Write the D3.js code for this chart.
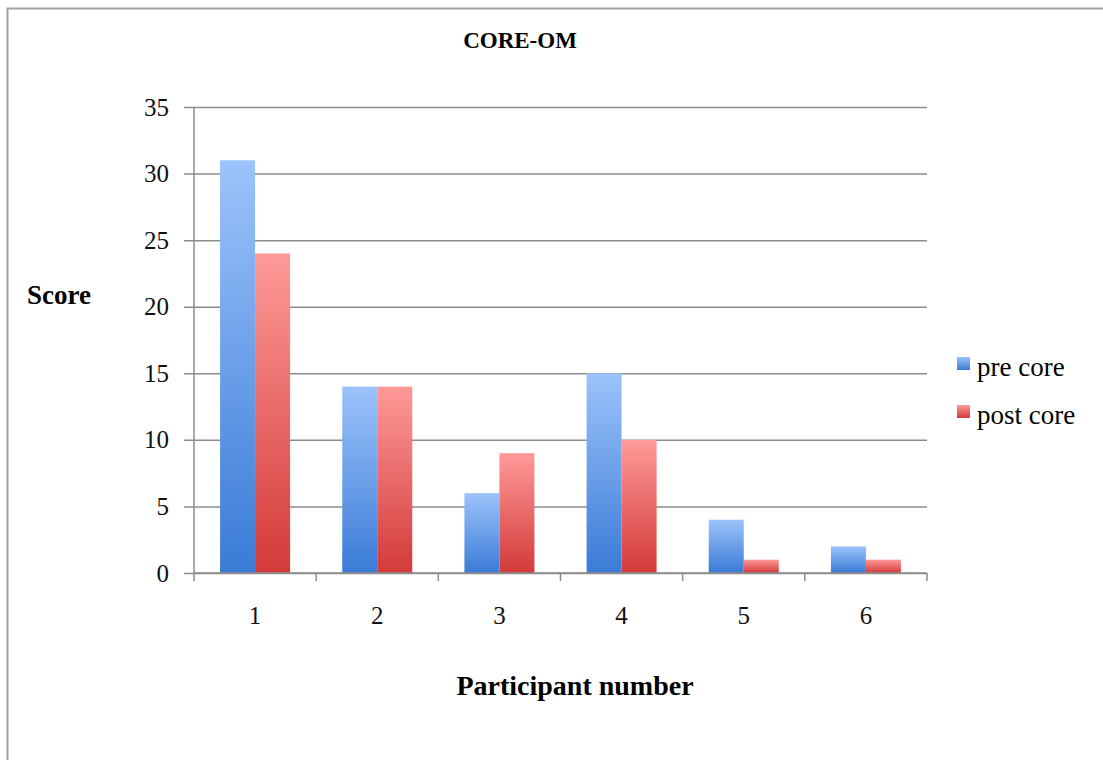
<!DOCTYPE html>
<html>
<body style="margin:0;background:#fff">
<script src="https://d3js.org/d3.v7.min.js"></script>
<style>
body { font-family: "Liberation Serif", serif; }
.axis text { font: 25px "Liberation Serif", serif; fill: #111; }
.axis line, .axis path { stroke: #8c8c8c; stroke-width: 1.5; }
</style>
<script>
// data
var participants = ["1", "2", "3", "4", "5", "6"];
var preCore = [31, 14, 6, 15, 4, 2];
var postCore = [24, 14, 9, 10, 1, 1];
var seriesNames = ["pre core", "post core"];
var yTicks = [0, 5, 10, 15, 20, 25, 30, 35];

var W = 1103, H = 760;
var plotL = 194, plotR = 927, plotT = 107, plotB = 573;

var svg = d3.select("body").append("svg")
    .attr("width", W).attr("height", H);

// outer frame (only top/left visible)
svg.append("rect")
    .attr("x", 7.5).attr("y", 8.5)
    .attr("width", W + 20).attr("height", H + 20)
    .attr("fill", "none").attr("stroke", "#a0a0a0").attr("stroke-width", 2);

var defs = svg.append("defs");
function grad(id, c1, c2) {
    var g = defs.append("linearGradient").attr("id", id)
        .attr("x1", 0).attr("y1", 0).attr("x2", 0).attr("y2", 1);
    g.append("stop").attr("offset", "0%").attr("stop-color", c1);
    g.append("stop").attr("offset", "100%").attr("stop-color", c2);
}
grad("gBlue", "#9cc3fb", "#3a7bd6");
grad("gRed", "#fe9a98", "#d33a39");
var fills = ["url(#gBlue)", "url(#gRed)"];

var x = d3.scaleBand().domain(participants).range([plotL, plotR]).paddingInner(0).paddingOuter(0);
var xs = d3.scaleBand().domain(seriesNames).range([0, x.bandwidth()]).paddingInner(0).paddingOuter(0.745);
var y = d3.scaleLinear().domain([0, 35]).range([plotB, plotT]);

// gridlines
svg.append("g").attr("class", "axis")
    .attr("transform", "translate(" + plotL + ",0)")
    .call(d3.axisLeft(y).tickValues(yTicks).tickSize(10).tickPadding(15))
    .call(function(g) { g.select(".domain").remove(); })
    .selectAll(".tick line").attr("x2", plotR - plotL).attr("x1", -10);

svg.append("line")
    .attr("x1", plotL).attr("x2", plotL).attr("y1", plotT).attr("y2", plotB)
    .attr("stroke", "#8c8c8c").attr("stroke-width", 1.5);

var series = [preCore, postCore];
series.forEach(function(vals, s) {
    svg.selectAll(".bar" + s)
        .data(participants)
      .enter().append("rect")
        .attr("x", function(d) { return x(d) + xs(seriesNames[s]); })
        .attr("width", xs.bandwidth())
        .attr("y", function(d, i) { return y(vals[i]); })
        .attr("height", function(d, i) { return plotB - y(vals[i]); })
        .attr("fill", fills[s]);
});

// x axis
var xAxis = svg.append("g").attr("class", "axis")
    .attr("transform", "translate(0," + plotB + ")")
    .call(d3.axisBottom(x).tickSize(0).tickPadding(33));
xAxis.select(".domain").attr("d", "M" + plotL + ",0H" + plotR);
var bounds = participants.map(function(d) { return x(d); }).concat([plotR]);
xAxis.selectAll(".sep").data(bounds).enter().append("line")
    .attr("x1", function(d) { return d; }).attr("x2", function(d) { return d; })
    .attr("y1", 0).attr("y2", 8)
    .attr("stroke", "#8c8c8c").attr("stroke-width", 1.5);

// titles
svg.append("text").attr("x", 520).attr("y", 48).attr("text-anchor", "middle")
    .style("font", "bold 23px 'Liberation Serif', serif").text("CORE-OM");
svg.append("text").attr("x", 27).attr("y", 304)
    .style("font", "bold 27px 'Liberation Serif', serif").text("Score");
svg.append("text").attr("x", 575).attr("y", 695).attr("text-anchor", "middle")
    .style("font", "bold 28px 'Liberation Serif', serif").text("Participant number");

// legend
var leg = svg.selectAll(".leg").data(seriesNames).enter().append("g")
    .attr("transform", function(d, i) { return "translate(957," + (357 + i * 48) + ")"; });
leg.append("rect").attr("width", 13).attr("height", 13)
    .attr("fill", function(d, i) { return fills[i]; });
leg.append("text").attr("x", 20).attr("y", 19)
    .style("font", "27px 'Liberation Serif', serif").text(function(d) { return d; });
</script>
</body>
</html>
